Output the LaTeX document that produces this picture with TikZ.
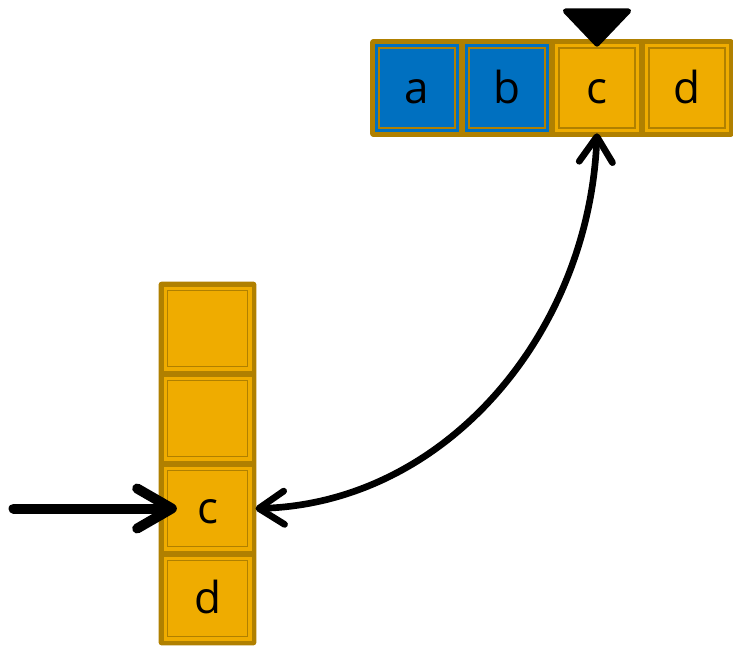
\documentclass[tikz,border=0pt]{standalone}
\usepackage{fontspec}
\setmainfont{Open Sans}
\usetikzlibrary{arrows.meta, positioning, backgrounds}
\definecolor{gold}{RGB}{239, 172, 0}
\definecolor{darkgold}{RGB}{176, 128, 0}
\definecolor{cellblue}{RGB}{0, 112, 192}

\tikzset{
  cell/.style={rectangle, fill=#1, outer sep=0pt, inner sep=0pt,
               font=\fontsize{33}{40}\selectfont, text height=23pt, text depth=0pt,
               path picture={\draw [darkgold, line width=1.3pt]
                 ([shift={(3pt, -3pt)}]path picture bounding box.north west) rectangle
                 ([shift={(-3pt, 3pt)}]path picture bounding box.south east);}},
  rowcell/.style={cell=#1, minimum width=63pt, minimum height=66pt},
  colcell/.style={cell=#1, minimum width=66pt, minimum height=63pt},
  frame/.style={fill=darkgold, rounded corners=2pt},
  pointer/.style={fill=black, draw=black, line width=4pt, line join=round},
  feed/.style={line width=7.5pt, line cap=round, -{Straight Barb[round, length=26pt, width=30pt]}},
  link/.style={line width=5pt, {Straight Barb[round, length=19pt, width=25pt]}-{Straight Barb[round, length=19pt, width=25pt]}}
}

\begin{document}
\begin{tikzpicture}[x=0.75pt, y=-0.75pt]
  \useasboundingbox (0, 0) rectangle (733, 646);

  % the row a b c d
  \node [rowcell=cellblue] (a) at (417, 88) {a};
  \node [rowcell=cellblue, right=4.5pt of a] (b) {b};
  \node [rowcell=gold, right=4.5pt of b] (c) {c};
  \node [rowcell=gold, right=4.5pt of c] (d) {d};

  % the column, two empty slots on top
  \node [colcell=gold] (s1) at (207.5, 328.5) {};
  \node [colcell=gold, below=4.5pt of s1] (s2) {};
  \node [colcell=gold, below=4.5pt of s2] (s3) {c};
  \node [colcell=gold, below=4.5pt of s3] (s4) {d};

  \begin{scope}[on background layer]
    \fill [frame] ([shift={(-3.6pt, 3.6pt)}]a.north west) rectangle ([shift={(3.6pt, -3.6pt)}]d.south east);
    \fill [frame] ([shift={(-3.6pt, 3.6pt)}]s1.north west) rectangle ([shift={(3.6pt, -3.6pt)}]s4.south east);
  \end{scope}

  \filldraw [pointer] (c.north) -- ++(-23.6pt, 24.75pt) -- ++(47.2pt, 0pt) -- cycle;

  \coordinate (src) at ([xshift=-112.5pt]s3.west);
  \draw [feed] (src) -- ([xshift=10pt]s3.west);

  \draw [link] ([xshift=3pt]s3.east) .. controls +(190, -5) and +(-8, 200) .. ([yshift=-1pt]c.south);

\end{tikzpicture}
\end{document}
